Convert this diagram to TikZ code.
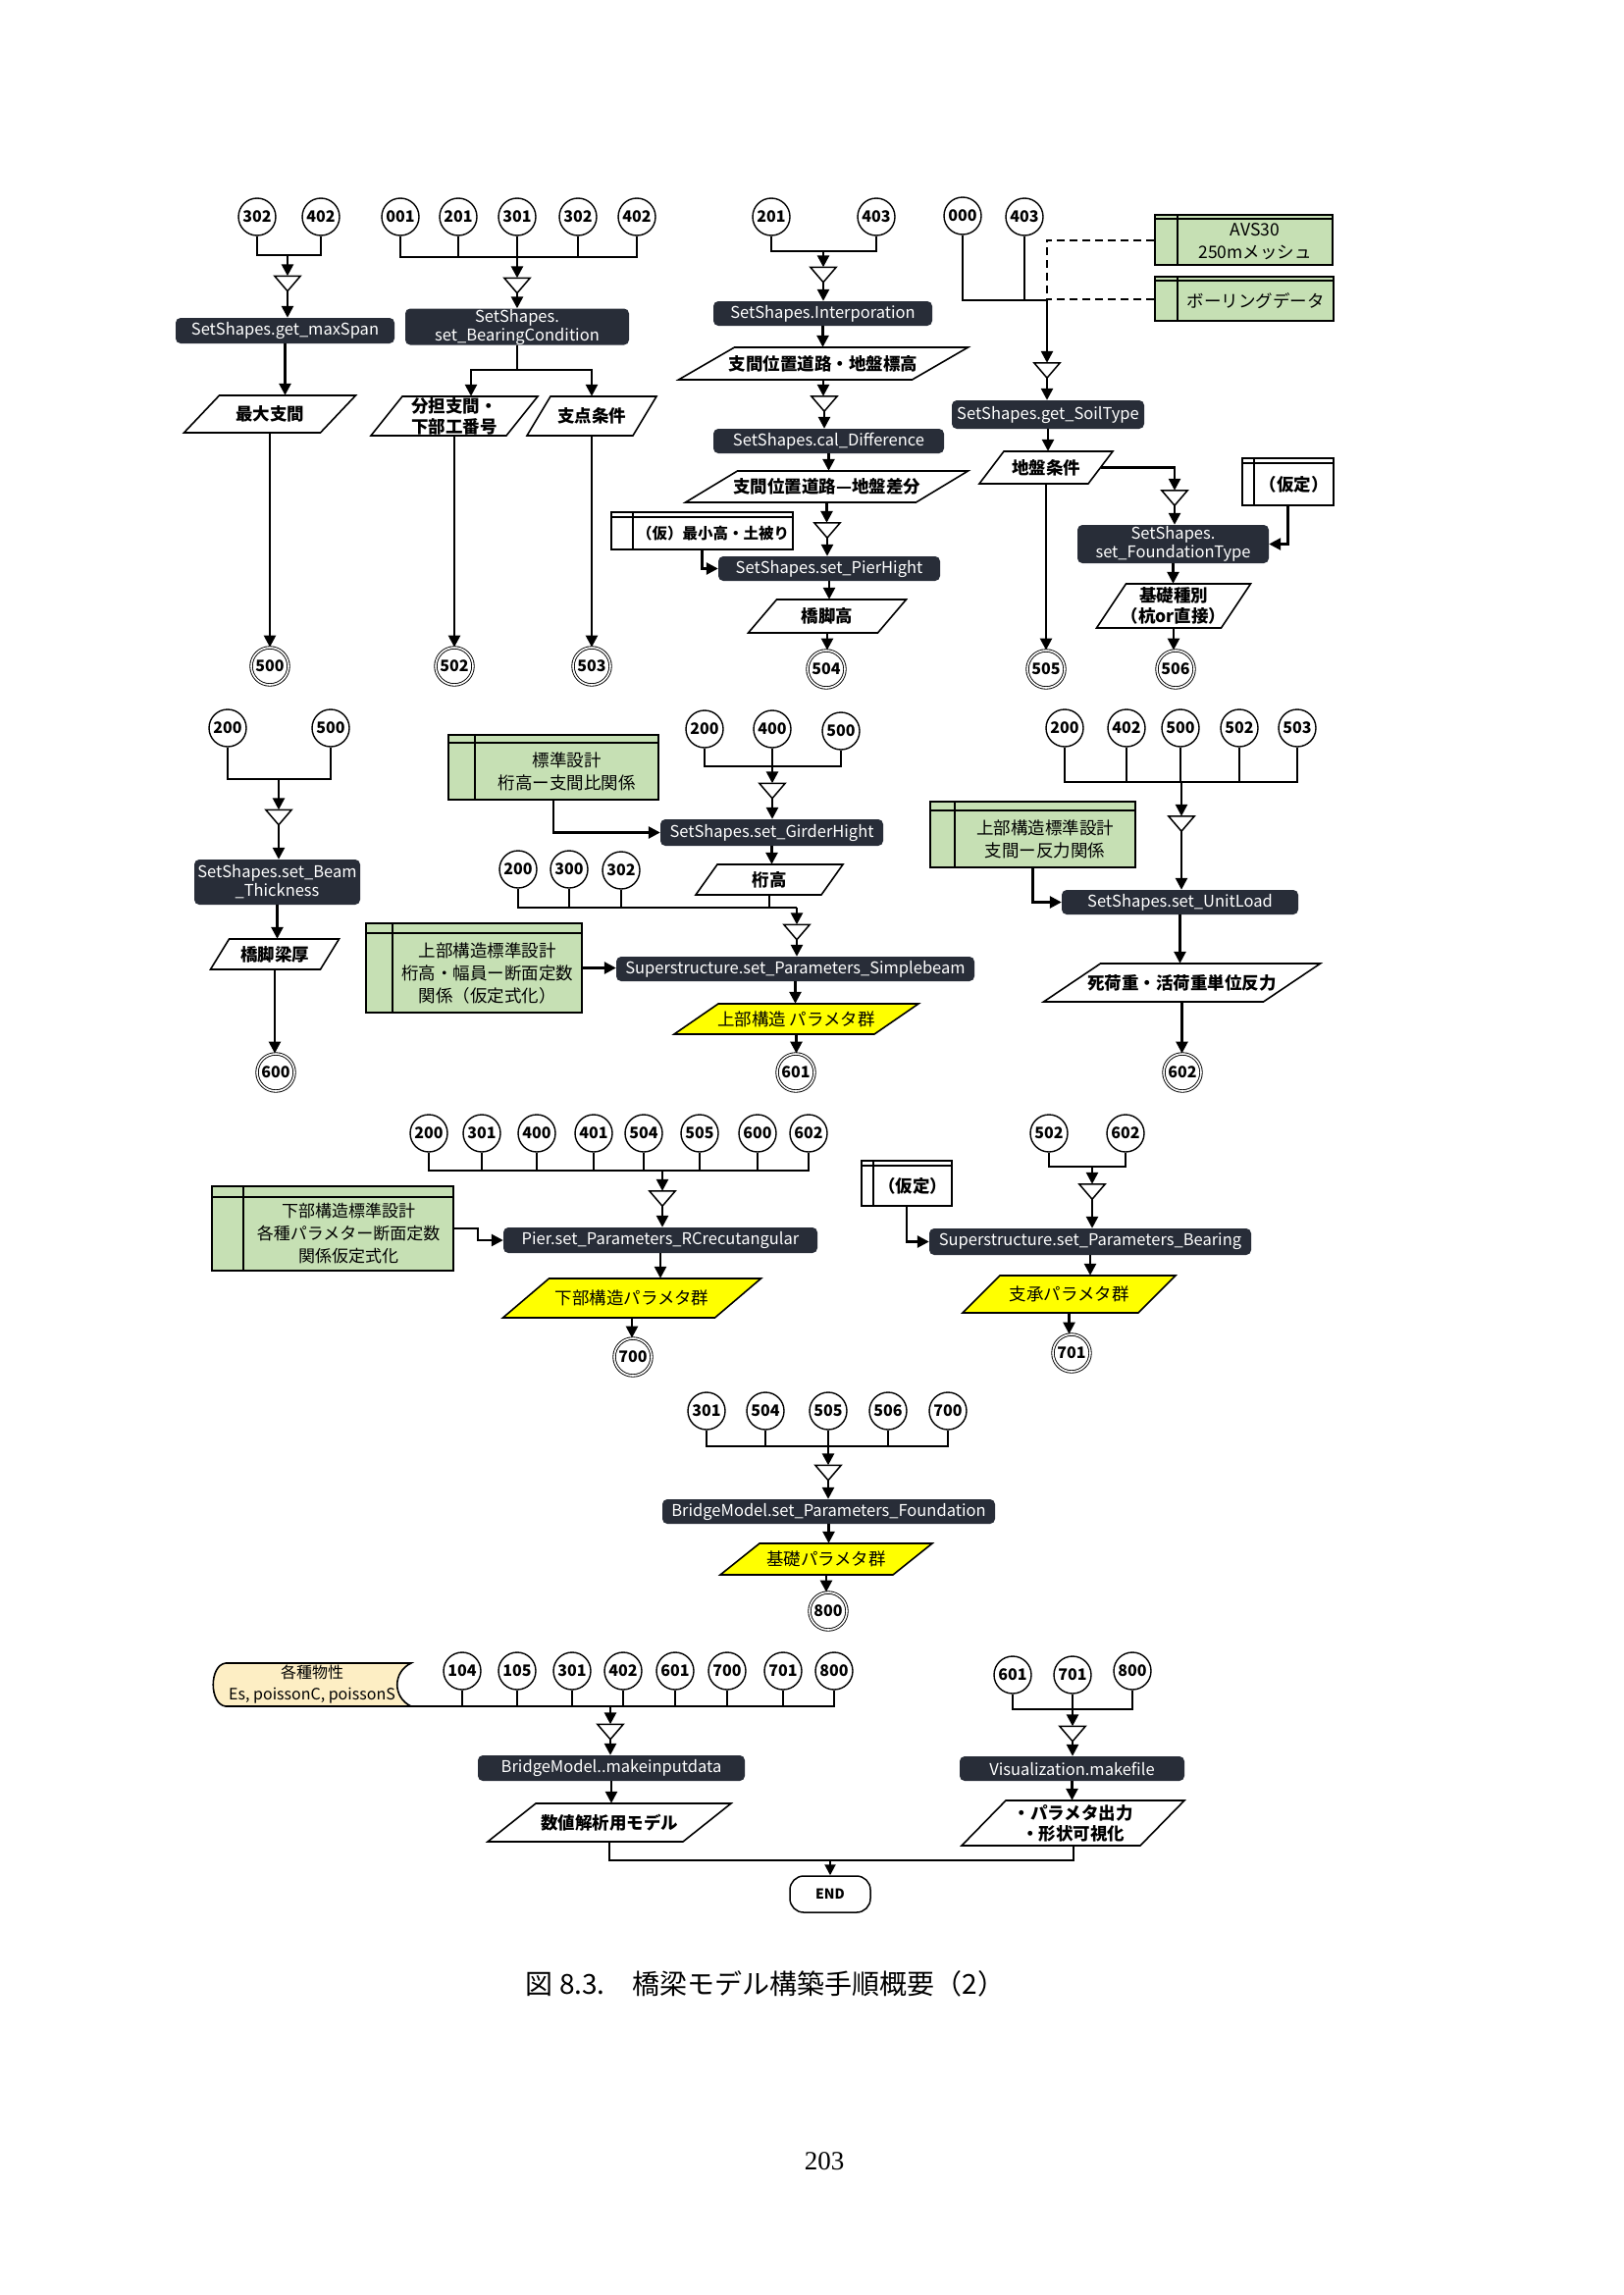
\documentclass[tikz,border=0pt]{standalone}
\usepackage{fontspec}
\setmainfont{Noto Sans CJK JP}
\newfontfamily\numserif{Liberation Serif}
\usetikzlibrary{arrows.meta,calc}
\definecolor{procc}{RGB}{40,45,56}
\definecolor{greenc}{RGB}{198,224,180}
\definecolor{yellowc}{RGB}{255,255,0}
\definecolor{tapec}{RGB}{253,238,196}
\newcommand\pfont{\fontsize{16.5}{19}\selectfont}
\newcommand\cfont{\bfseries\fontsize{16}{16}\selectfont}
\newcommand\iofont{\bfseries\fontsize{17.5}{21}\selectfont}
\newcommand\yfont{\fontsize{17.5}{21}\selectfont}
\newcommand\gfont{\fontsize{17.5}{23}\selectfont}
\newcommand\tapefont{\fontsize{16}{22}\selectfont}
\tikzset{
 conn/.style={circle, draw, line width=1.4pt, minimum size=38pt, inner sep=0pt, fill=white, font=\cfont},
 offp/.style={circle, draw, line width=0.9pt, double, double distance=1.6pt, minimum size=38pt, inner sep=0pt, fill=white, font=\cfont},
 proc/.style={rectangle, rounded corners=5pt, fill=procc, text=white, inner sep=0pt, align=center, font=\pfont},
 stub/.style={line width=2pt},
 thk/.style={line width=2.6pt},
 arr/.style={line width=2.6pt, -{Triangle[length=12pt,width=12pt]}},
 tarr/.style={line width=2pt, -{Triangle[length=11pt,width=11pt]}},
 dashl/.style={line width=2pt, dash pattern=on 8pt off 5pt},
 iob/.style={line width=1.6pt, line join=miter},
 iot/.style={inner sep=0pt, align=center},
 tframe/.style={draw, line width=1.8pt, inner sep=0pt},
 tline/.style={line width=1.8pt},
 ttext/.style={inner sep=0pt, align=center},
 gfr/.style={fill=greenc}, gtx/.style={font=\gfont},
 hfr/.style={fill=greenc}, htx/.style={font=\fontsize{17}{23}\selectfont},
 wfr/.style={fill=white}, wtx/.style={font=\iofont},
 sfr/.style={fill=white}, stx/.style={font=\bfseries\fontsize{15.5}{18}\selectfont},
 endbox/.style={draw, line width=1.5pt, rounded corners=14pt, minimum width=82pt, minimum height=37pt, inner sep=0pt, font=\bfseries\fontsize{14}{14}\selectfont, fill=white},
}
\newcommand\mymerge[3]{%
 \node[inner sep=0pt,minimum width=26pt,minimum height=15pt] (#1) at (#2,#3) {};
 \draw[line width=1.5pt,fill=white,line join=miter] (#1.north west) -- (#1.north east) -- (#1.south) -- cycle;}
% name, cx, cy, w, h, slant, fill, font, text
\newcommand\myio[9]{%
 \draw[iob,fill=#7] ({#2-#4/2+#6/2},{#3-#5/2}) -- ({#2+#4/2+#6/2},{#3-#5/2}) -- ({#2+#4/2-#6/2},{#3+#5/2}) -- ({#2-#4/2-#6/2},{#3+#5/2}) -- cycle;
 \node[iot,font=#8,minimum width=#4pt,minimum height=#5pt] (#1) at (#2,#3) {#9};}
% name, x1, y1, x2, y2, column, header, kind, text
\newcommand\mytbox[9]{%
 \node[tframe,#8fr,minimum width={(#4-#2)*1pt},minimum height={(#5-#3)*1pt}] (#1) at ({(#2+#4)/2},{(#3+#5)/2}) {};
 \draw[tline] ({#2+#6},#3) -- ({#2+#6},#5);
 \draw[tline] (#2,{#3+#7}) -- (#4,{#3+#7});
 \node[ttext,#8tx] (#1t) at ({(#2+#6+#4)/2},{(#3+#7+#5)/2}) {#9};}
\begin{document}
\begin{tikzpicture}[x=1pt,y=-1pt]
\fill[white] (0,0) rectangle (1654,2339);
\useasboundingbox (0,0) rectangle (1654,2339);

% ---------- Section A
\node[conn] (A1) at (262,221) {302};
\node[conn] (A2) at (327,221) {402};
\coordinate (bA) at (293,260);
\draw[stub] (A1.south) |- (bA) -| (A2.south);
\mymerge{MA}{293}{289}
\node[proc,minimum width=223pt,minimum height=26pt] (PA) at (290.5,337) {SetShapes.get\_maxSpan};
\myio{IA}{275}{422}{139}{38}{36}{white}{\iofont}{最大支間}
\node[offp] (O500) at (275,679) {500};
\draw[arr] (bA) -- (MA.north);
\draw[arr] (MA.south) -- (MA.south |- PA.north);
\draw[arr] (PA.south) -- (PA.south |- IA.north);
\draw[arr] (IA.south) -- (O500.north);

% ---------- Section B
\node[conn] (B1c) at (408,221) {001};
\node[conn] (B2c) at (467,221) {201};
\node[conn] (B3c) at (527,221) {301};
\node[conn] (B4c) at (589,221) {302};
\node[conn] (B5c) at (649,221) {402};
\coordinate (bB) at (527,262);
\draw[stub] (B1c.south) |- (bB) -| (B5c.south);
\foreach \n in {B2c,B3c,B4c} \draw[stub] (\n.south) -- (\n.south |- bB);
\mymerge{MB}{527}{291}
\node[proc,minimum width=228pt,minimum height=37pt] (PB) at (527,333) {SetShapes.\\set\_BearingCondition};
\myio{IB1}{463}{424}{138}{40}{32}{white}{\iofont}{分担支間・\\下部工番号}
\myio{IB2}{603}{424}{108}{40}{24}{white}{\iofont}{支点条件}
\coordinate (sB) at (527,377);
\draw[arr] (bB) -- (MB.north);
\draw[arr] (MB.south) -- (PB.north);
\draw[thk] (PB.south) -- (sB);
\draw[arr] (sB) -| ([xshift=17pt]IB1.north);
\draw[arr] (sB) -| (IB2.north);
\node[offp] (O502) at (463,679) {502};
\node[offp] (O503) at (603,679) {503};
\draw[arr] (IB1.south) -- (O502.north);
\draw[arr] (IB2.south) -- (O503.north);

% ---------- Section C
\node[conn] (C1c) at (786,221) {201};
\node[conn] (C2c) at (893,221) {403};
\coordinate (bC) at (839,256);
\draw[stub] (C1c.south) |- (bC) -| (C2c.south);
\mymerge{MC1}{839}{280}
\node[proc,minimum width=223pt,minimum height=25pt] (PC1) at (838.5,319.5) {SetShapes.Interporation};
\myio{IC1}{839}{370.5}{238}{33}{57}{white}{\iofont}{支間位置道路・地盤標高}
\mymerge{MC2}{840}{411.5}
\node[proc,minimum width=235pt,minimum height=25pt] (PC2) at (844.5,449.5) {SetShapes.cal\_Difference};
\myio{IC2}{842.5}{496}{235}{32}{53}{white}{\iofont}{支間位置道路—地盤差分}
\mymerge{MC3}{843}{540.5}
\mytbox{T1}{623}{522}{808}{560}{22}{5}{s}{（仮）最小高・土被り}
\node[proc,minimum width=226pt,minimum height=25pt] (PC3) at (845,579.5) {SetShapes.set\_PierHight};
\myio{IC3}{843}{628}{132}{34}{29}{white}{\iofont}{橋脚高}
\node[offp] (O504) at (842,682) {504};
\draw[arr] (bC) -- (MC1.north);
\draw[arr] (MC1.south) -- (MC1.south |- PC1.north);
\draw[arr] (PC1.south) -- (PC1.south |- IC1.north);
\draw[arr] (IC1.south) -- (IC1.south |- MC2.north);
\draw[arr] (MC2.south) -- (MC2.south |- PC2.north);
\draw[arr] (PC2.south) -- (PC2.south |- IC2.north);
\draw[arr] (IC2.south) -- (IC2.south |- MC3.north);
\draw[arr] (MC3.south) -- (MC3.south |- PC3.north);
\draw[arr] (T1.south) |- (PC3.west);
\draw[arr] (PC3.south) -- (PC3.south |- IC3.north);
\draw[arr] (IC3.south) -- (IC3.south |- O504.north);

% ---------- Section D
\node[conn] (D1c) at (981,220) {000};
\node[conn] (D2c) at (1044,221) {403};
\coordinate (bD) at (1067,306);
\draw[stub] (D1c.south) |- (bD);
\draw[stub] (D2c.south) -- (D2c.south |- bD);
\mytbox{T2}{1177}{219}{1358}{270}{23}{4}{g}{AVS30\\250mメッシュ}
\mytbox{T3}{1177}{282}{1359}{327}{23}{4}{g}{ボーリングデータ}
\draw[dashl] (T2.west) -| (bD);
\draw[dashl] (T3.west) -- (T3.west -| bD);
\mymerge{MD1}{1067}{377.5}
\draw[arr] (bD) -- (MD1.north);
\node[proc,minimum width=196pt,minimum height=29pt] (PD1) at (1068,422.5) {SetShapes.get\_SoilType};
\draw[arr] (MD1.south) -- (MD1.south |- PD1.north);
\myio{ID1}{1066}{476.5}{111}{33}{25}{white}{\iofont}{地盤条件}
\draw[arr] (PD1.south) -- (PD1.south |- ID1.north);
\node[offp] (O505) at (1066,682) {505};
\draw[arr] (ID1.south) -- (O505.north);
\mymerge{MD2}{1197}{507.5}
\draw[arr] (ID1.east) -| (MD2.north);
\node[proc,minimum width=195pt,minimum height=39pt] (PD2) at (1195.5,554.5) {SetShapes.\\set\_FoundationType};
\draw[arr] (MD2.south) -- (MD2.south |- PD2.north);
\mytbox{T4}{1266}{467}{1359}{515}{12}{5}{w}{（仮定）}
\draw[arr] (T4.south) |- (PD2.east);
\myio{ID2}{1196}{617.5}{127}{45}{30}{white}{\iofont}{基礎種別\\（杭or直接）}
\draw[arr] (PD2.south) -- (PD2.south |- ID2.north);
\node[offp] (O506) at (1198,682) {506};
\draw[arr] (ID2.south) -- (ID2.south |- O506.north);

% ---------- Section E
\node[conn] (E1c) at (232,742) {200};
\node[conn] (E2c) at (337,742) {500};
\coordinate (bE) at (284,794);
\draw[stub] (E1c.south) |- (bE) -| (E2c.south);
\mymerge{ME}{284}{833}
\node[proc,minimum width=169pt,minimum height=46pt] (PE) at (282.5,899) {SetShapes.set\_Beam\\\_Thickness};
\myio{IE}{280}{972.5}{112}{31}{19}{white}{\iofont}{橋脚梁厚}
\node[offp] (O600) at (281,1093) {600};
\draw[arr] (bE) -- (ME.north);
\draw[arr] (ME.south) -- (ME.south |- PE.north);
\draw[arr] (PE.south) -- (PE.south |- IE.north);
\draw[arr] (IE.south) -- (IE.south |- O600.north);

% ---------- Section F
\mytbox{T5}{457}{749}{671}{815}{27}{8}{g}{標準設計\\桁高ー支間比関係}
\node[conn] (F1c) at (718,743) {200};
\node[conn] (F2c) at (787,743) {400};
\node[conn] (F3c) at (857,745) {500};
\coordinate (bF1) at (787,781);
\draw[stub] (F1c.south) |- (bF1) -| (F3c.south);
\draw[stub] (F2c.south) -- (bF1);
\mymerge{MF1}{787}{806}
\draw[arr] (bF1) -- (MF1.north);
\node[proc,minimum width=227pt,minimum height=27pt] (PF1) at (786.5,848.5) {SetShapes.set\_GirderHight};
\draw[arr] (MF1.south) -- (MF1.south |- PF1.north);
\draw[arr] (T5.south) |- (PF1.west);
\myio{IF1}{784}{896.5}{128}{31}{22}{white}{\iofont}{桁高}
\draw[arr] (PF1.south) -- (PF1.south |- IF1.north);
\node[conn] (F4c) at (528,886) {200};
\node[conn] (F5c) at (580,886) {300};
\node[conn] (F6c) at (633,887) {302};
\coordinate (bF2) at (812,925);
\draw[stub] (F4c.south) |- (bF2);
\draw[stub] (F5c.south) -- (F5c.south |- bF2);
\draw[stub] (F6c.south) -- (F6c.south |- bF2);
\draw[thk] (IF1.south) -- (IF1.south |- bF2);
\mymerge{MF2}{812}{950}
\draw[arr] (bF2) -- (MF2.north);
\node[proc,minimum width=365pt,minimum height=25pt] (PF2) at (810.5,987.5) {Superstructure.set\_Parameters\_Simplebeam};
\draw[arr] (MF2.south) -- (MF2.south |- PF2.north);
\mytbox{T6}{373}{941}{593}{1032}{27}{10}{g}{上部構造標準設計\\桁高・幅員ー断面定数\\関係（仮定式化）}
\draw[arr] (T6.east) -- (T6.east -| PF2.west);
\myio{IF2}{811.5}{1038.5}{204}{31}{45}{yellowc}{\yfont}{上部構造 パラメタ群}
\draw[arr] (PF2.south) -- (PF2.south |- IF2.north);
\node[offp] (O601) at (811,1093) {601};
\draw[arr] (IF2.south) -- (IF2.south |- O601.north);

% ---------- Section G
\node[conn] (G1c) at (1085,742) {200};
\node[conn] (G2c) at (1148,742) {402};
\node[conn] (G3c) at (1203,742) {500};
\node[conn] (G4c) at (1263,742) {502};
\node[conn] (G5c) at (1322,742) {503};
\coordinate (bG) at (1204,797);
\draw[stub] (G1c.south) |- (bG) -| (G5c.south);
\foreach \n in {G2c,G3c,G4c} \draw[stub] (\n.south) -- (\n.south |- bG);
\mymerge{MG}{1204}{839.5}
\mytbox{T7}{948}{817}{1157}{884}{25}{9}{g}{上部構造標準設計\\支間ー反力関係}
\node[proc,minimum width=241pt,minimum height=25pt] (PG) at (1202.5,919.5) {SetShapes.set\_UnitLoad};
\draw[arr] (bG) -- (MG.north);
\draw[arr] (MG.south) -- (MG.south |- PG.north);
\draw[arr] (T7.south) |- (PG.west);
\myio{IG}{1204.5}{1001.5}{224}{39}{58}{white}{\iofont}{死荷重・活荷重単位反力}
\draw[arr] (PG.south) -- (PG.south |- IG.north);
\node[offp] (O602) at (1205,1093) {602};
\draw[arr] (IG.south) -- (IG.south |- O602.north);

% ---------- Section H
\node[conn] (H1c) at (437,1155) {200};
\node[conn] (H2c) at (491,1155) {301};
\node[conn] (H3c) at (547,1155) {400};
\node[conn] (H4c) at (605,1155) {401};
\node[conn] (H5c) at (656,1155) {504};
\node[conn] (H6c) at (713,1155) {505};
\node[conn] (H7c) at (772,1155) {600};
\node[conn] (H8c) at (824,1155) {602};
\coordinate (bH) at (675,1193);
\draw[stub] (H1c.south) |- (bH) -| (H8c.south);
\foreach \n in {H2c,H3c,H4c,H5c,H6c,H7c} \draw[stub] (\n.south) -- (\n.south |- bH);
\mymerge{MH}{675}{1221.5}
\node[proc,minimum width=320pt,minimum height=26pt] (PH) at (673,1264) {Pier.set\_Parameters\_RCrecutangular};
\draw[arr] (bH) -- (MH.north);
\draw[arr] (MH.south) -- (MH.south |- PH.north);
\mytbox{T8}{216}{1209}{462}{1295}{32}{11}{h}{下部構造標準設計\\各種パラメター断面定数\\関係仮定式化}
\coordinate (kH) at (487,1252);
\draw[arr] (T8.east) -- (kH) |- (PH.west);
\myio{IH}{644}{1323}{216}{40}{47}{yellowc}{\yfont}{下部構造パラメタ群}
\draw[arr] (PH.south) -- (PH.south |- IH.north);
\node[offp] (O700) at (645,1383) {700};
\draw[arr] (IH.south) -- (IH.south |- O700.north);

% ---------- Section I
\node[conn] (I1c) at (1069,1155) {502};
\node[conn] (I2c) at (1147,1155) {602};
\coordinate (bI) at (1113,1189);
\draw[stub] (I1c.south) |- (bI) -| (I2c.south);
\mymerge{MI}{1113}{1214.5}
\mytbox{T9}{878}{1183}{970}{1229}{12}{5}{w}{（仮定）}
\node[proc,minimum width=328pt,minimum height=27pt] (PI) at (1111,1265.5) {Superstructure.set\_Parameters\_Bearing};
\draw[arr] (bI) -- (MI.north);
\draw[arr] (MI.south) -- (MI.south |- PI.north);
\draw[arr] (T9.south) |- (PI.west);
\myio{II}{1089.5}{1319}{179}{38}{38}{yellowc}{\yfont}{支承パラメタ群}
\draw[arr] (PI.south) -- (PI.south |- II.north);
\node[offp] (O701) at (1092,1379) {701};
\draw[arr] (II.south) -- (II.south |- O701.north);

% ---------- Section J
\node[conn] (J1c) at (720,1438) {301};
\node[conn] (J2c) at (780,1438) {504};
\node[conn] (J3c) at (844,1438) {505};
\node[conn] (J4c) at (905,1438) {506};
\node[conn] (J5c) at (966,1438) {700};
\coordinate (bJ) at (844,1474);
\draw[stub] (J1c.south) |- (bJ) -| (J5c.south);
\foreach \n in {J2c,J3c,J4c} \draw[stub] (\n.south) -- (\n.south |- bJ);
\mymerge{MJ}{844}{1501}
\node[proc,minimum width=339pt,minimum height=25pt] (PJ) at (844.5,1540.5) {BridgeModel.set\_Parameters\_Foundation};
\draw[arr] (bJ) -- (MJ.north);
\draw[arr] (MJ.south) -- (MJ.south |- PJ.north);
\myio{IJ}{842}{1589}{176}{32}{40}{yellowc}{\yfont}{基礎パラメタ群}
\draw[arr] (PJ.south) -- (PJ.south |- IJ.north);
\node[offp] (O800) at (844,1642) {800};
\draw[arr] (IJ.south) -- (IJ.south |- O800.north);

% ---------- Section K
\path[fill=tapec] (419,1695) -- (230,1695) .. controls (213,1697) and (213,1737) .. (230,1739) -- (419,1739) .. controls (400,1730) and (400,1704) .. (419,1695) -- cycle;
\begin{scope}
\clip (419,1695) -- (230,1695) .. controls (213,1697) and (213,1737) .. (230,1739) -- (419,1739) .. controls (400,1730) and (400,1704) .. (419,1695) -- cycle;
\node[ttext,font=\tapefont] (S1) at (318,1717) {各種物性\\Es, poissonC, poissonS};
\end{scope}
\draw[line width=1.6pt] (419,1695) -- (230,1695) .. controls (213,1697) and (213,1737) .. (230,1739) -- (419,1739) .. controls (400,1730) and (400,1704) .. (419,1695) -- cycle;
\coordinate (tapeR) at (419,1739);
\node[conn] (K1c) at (471,1703) {104};
\node[conn] (K2c) at (527,1703) {105};
\node[conn] (K3c) at (583,1703) {301};
\node[conn] (K4c) at (635,1703) {402};
\node[conn] (K5c) at (688,1703) {601};
\node[conn] (K6c) at (741,1703) {700};
\node[conn] (K7c) at (798,1703) {701};
\node[conn] (K8c) at (850,1703) {800};
\coordinate (bK) at (622,1739);
\draw[stub] (tapeR) -- (K8c.south |- tapeR) -- (K8c.south);
\foreach \n in {K1c,K2c,K3c,K4c,K5c,K6c,K7c} \draw[stub] (\n.south) -- (\n.south |- bK);
\mymerge{MK}{622}{1765}
\node[proc,minimum width=272pt,minimum height=26pt] (PK) at (623,1802) {BridgeModel..makeinputdata};
\draw[arr] (bK) -- (MK.north);
\draw[arr] (MK.south) -- (MK.south |- PK.north);
\myio{IK}{621}{1857.5}{199}{39}{49}{white}{\iofont}{数値解析用モデル}
\draw[arr] (PK.south) -- (PK.south |- IK.north);

% ---------- Section L
\node[conn] (L1c) at (1032,1707) {601};
\node[conn] (L2c) at (1093,1707) {701};
\node[conn] (L3c) at (1154,1703) {800};
\coordinate (bL) at (1093,1742);
\draw[stub] (L1c.south) |- (bL) -| (L3c.south);
\draw[stub] (L2c.south) -- (bL);
\mymerge{ML}{1093}{1767}
\node[proc,minimum width=229pt,minimum height=25pt] (PL) at (1092.5,1802.5) {Visualization.makefile};
\draw[arr] (bL) -- (ML.north);
\draw[arr] (ML.south) -- (ML.south |- PL.north);
\myio{IL}{1093.5}{1858}{182}{46}{45}{white}{\iofont}{・パラメタ出力\\・形状可視化}
\draw[arr] (PL.south) -- (PL.south |- IL.north);

% ---------- END
\node[endbox] (END) at (846,1930.5) {END};
\coordinate (eE) at (846,1896);
\draw[stub] (IK.south) |- (eE);
\draw[stub] (IL.south) |- (eE);
\draw[tarr] (eE) -- (END.north);

% ---------- caption
\node[inner sep=0pt] (cap) at (780,2022) {\fontsize{28}{28}\selectfont 図 8.3.　橋梁モデル構築手順概要（2）};
\node[inner sep=0pt] (pg) at (840,2203) {\numserif\fontsize{27}{27}\selectfont 203};
\end{tikzpicture}
\end{document}
